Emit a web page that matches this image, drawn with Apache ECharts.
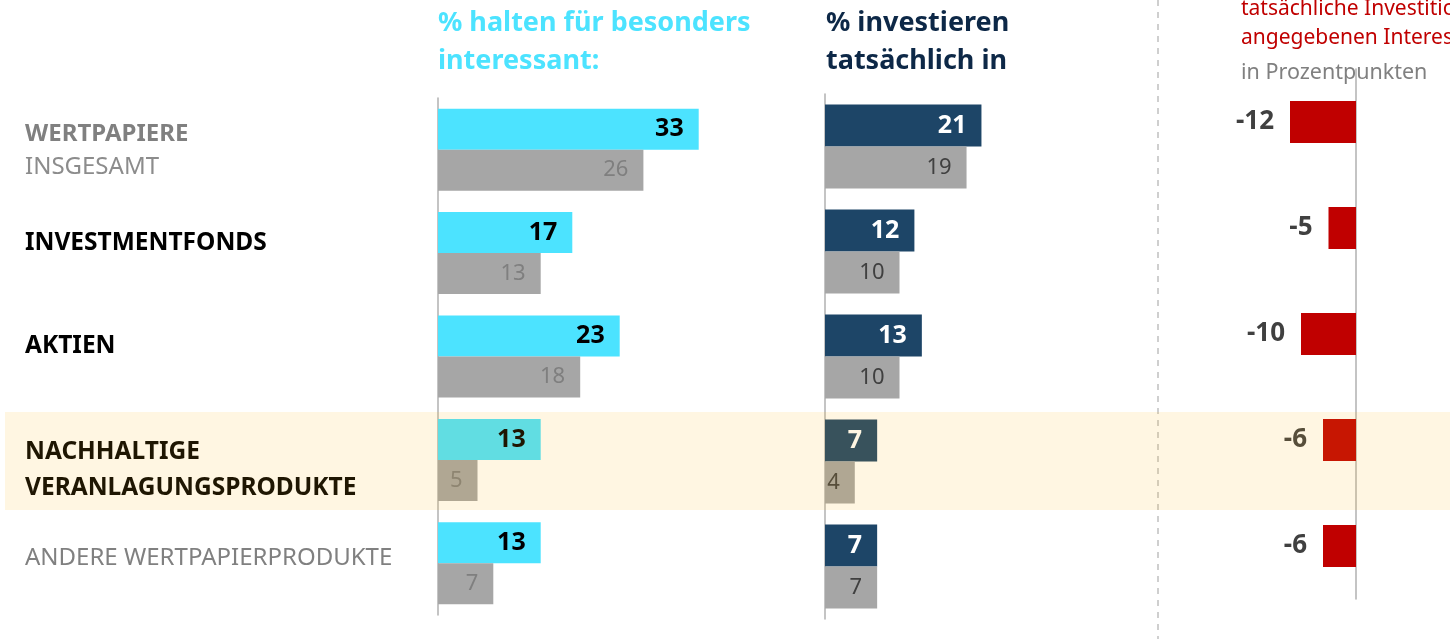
<!DOCTYPE html>
<html>
<head>
<meta charset="utf-8">
<script src="https://cdn.jsdelivr.net/npm/echarts@6/dist/echarts.min.js"></script>
<style>
  html, body { margin: 0; padding: 0; background: #fff; }
  #chart { width: 1450px; height: 639px; }
</style>
</head>
<body>
<div id="chart"></div>
<script>
const categories = [
  'WERTPAPIERE INSGESAMT',
  'INVESTMENTFONDS',
  'AKTIEN',
  'NACHHALTIGE VERANLAGUNGSPRODUKTE',
  'ANDERE WERTPAPIERPRODUKTE'
];
const interestNow = [33, 17, 23, 13, 13];
const interestPrev = [26, 13, 18, 5, 7];
const investNow = [21, 12, 13, 7, 7];
const investPrev = [19, 10, 10, 4, 7];
const gapPoints = [-12, -5, -10, -6, -6];

const FONT = '"Noto Sans", Roboto, sans-serif';
const CYAN = '#4ce3ff';
const GREY = '#a6a6a6';
const NAVY = '#1d4567';
const RED = '#c00000';

// rich label text per row, left column
const rowLabels = [
  '{g|WERTPAPIERE}\n{r|INSGESAMT}',
  '{up|INVESTMENTFONDS}',
  '{up|AKTIEN}',
  '{dn|NACHHALTIGE}\n{dn|VERANLAGUNGSPRODUKTE}',
  '{rg|ANDERE WERTPAPIERPRODUKTE}'
];

const chart = echarts.init(document.getElementById('chart'));

const valueLabel = (color, bold) => ({
  show: true,
  position: 'insideRight',
  distance: 15,
  color: color,
  fontFamily: FONT,
  fontSize: bold ? 25 : 22,
  fontWeight: bold ? 'bold' : 'normal'
});

const hiddenX = (max, min) => ({
  type: 'value',
  min: min,
  max: max,
  show: false
});

const option = {
  animation: false,
  grid: [
    { left: 438, width: 316, top: 98, bottom: 24 },
    { left: 825, width: 298, top: 94, bottom: 20 },
    { left: 1246, width: 110, top: 69, bottom: 40 }
  ],
  xAxis: [
    Object.assign(hiddenX(40, 0), { gridIndex: 0 }),
    Object.assign(hiddenX(40, 0), { gridIndex: 1 }),
    Object.assign(hiddenX(0, -20), { gridIndex: 2 })
  ],
  yAxis: [
    {
      gridIndex: 0,
      type: 'category',
      inverse: true,
      data: categories,
      axisLine: { lineStyle: { color: '#b0b0b0', width: 1.5 } },
      axisTick: { show: false },
      axisLabel: {
        align: 'left',
        margin: 413,
        formatter: (v, i) => rowLabels[i],
        rich: {
          g: { fontFamily: FONT, fontSize: 24, fontWeight: 'bold', color: '#808080', lineHeight: 35, padding: [4, 0, 0, 0] },
          r: { fontFamily: FONT, fontSize: 24, color: '#8c8c8c', lineHeight: 35 },
          up: { fontFamily: FONT, fontSize: 24.5, fontWeight: 'bold', color: '#000', padding: [0, 0, 20, 0] },
          dn: { fontFamily: FONT, fontSize: 24.5, fontWeight: 'bold', color: '#000', lineHeight: 36, padding: [20, 0, 0, 0] },
          rg: { fontFamily: FONT, fontSize: 24, color: '#808080', padding: [0, 0, 10, 0] }
        }
      }
    },
    {
      gridIndex: 1,
      type: 'category',
      inverse: true,
      data: categories,
      axisLine: { lineStyle: { color: '#b0b0b0', width: 1.5 } },
      axisTick: { show: false },
      axisLabel: { show: false }
    },
    {
      gridIndex: 2,
      type: 'category',
      inverse: true,
      data: categories,
      axisLine: { lineStyle: { color: '#b0b0b0', width: 1.5 } },
      axisTick: { show: false },
      axisLabel: { show: false }
    }
  ],
  series: [
    {
      type: 'bar', xAxisIndex: 0, yAxisIndex: 0,
      data: interestNow, barWidth: 41, barGap: '0%',
      itemStyle: { color: CYAN },
      label: valueLabel('#000', true)
    },
    {
      type: 'bar', xAxisIndex: 0, yAxisIndex: 0,
      data: interestPrev, barWidth: 41, barGap: '0%',
      itemStyle: { color: GREY },
      label: valueLabel('#7f7f7f', false)
    },
    {
      type: 'bar', xAxisIndex: 1, yAxisIndex: 1,
      data: investNow, barWidth: 42, barGap: '0%',
      itemStyle: { color: NAVY },
      label: valueLabel('#fff', true)
    },
    {
      type: 'bar', xAxisIndex: 1, yAxisIndex: 1,
      data: investPrev, barWidth: 42, barGap: '0%',
      itemStyle: { color: GREY },
      label: valueLabel('#404040', false)
    },
    {
      type: 'bar', xAxisIndex: 2, yAxisIndex: 2,
      data: gapPoints, barWidth: 42,
      itemStyle: { color: RED },
      label: {
        show: true,
        position: 'left',
        distance: 16,
        color: '#404040',
        fontFamily: FONT,
        fontSize: 26,
        fontWeight: 'bold'
      }
    }
  ],
  graphic: [
    {
      type: 'line',
      shape: { x1: 1158, y1: 0, x2: 1158, y2: 639 },
      style: { stroke: '#c0c0c0', lineWidth: 1.5, lineDash: [6, 6] }
    },
    {
      type: 'text', left: 438, top: 4,
      style: {
        text: '% halten für besonders\ninteressant:',
        fill: CYAN, font: 'bold 27px ' + FONT, lineHeight: 38
      }
    },
    {
      type: 'text', left: 826, top: 4,
      style: {
        text: '% investieren\ntatsächlich in',
        fill: '#0d2847', font: 'bold 27px ' + FONT, lineHeight: 38
      }
    },
    {
      type: 'text', left: 1241, top: -5,
      style: {
        text: 'tatsächliche Investition\nangegebenen Interesse',
        fill: '#c00000', font: '21px ' + FONT, lineHeight: 29
      }
    },
    {
      type: 'text', left: 1241, top: 60,
      style: { text: 'in Prozentpunkten', fill: '#808080', font: '21.5px ' + FONT, lineHeight: 26 }
    },
    {
      type: 'rect', z: 100,
      shape: { x: 5, y: 412, width: 1445, height: 98 },
      style: { fill: 'rgba(255,180,20,0.12)' }
    }
  ]
};

chart.setOption(option);
</script>
</body>
</html>
